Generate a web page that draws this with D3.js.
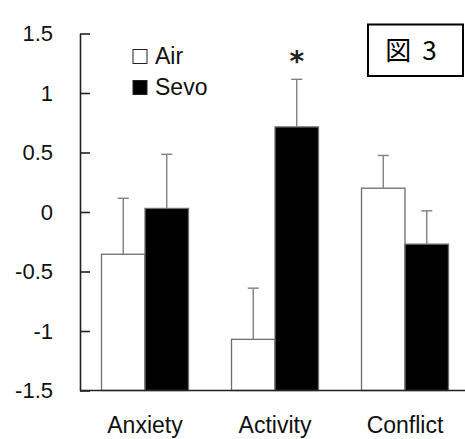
<!DOCTYPE html>
<html>
<head>
<meta charset="utf-8">
<script src="https://cdn.jsdelivr.net/npm/d3@7"></script>
<style>
  html, body { margin: 0; padding: 0; background: #fff; }
  svg { display: block; }
</style>
</head>
<body>
<svg id="chart" width="465" height="439"></svg>
<script>
const categories = ["Anxiety", "Activity", "Conflict"];
const seriesNames = ["Air", "Sevo"];
const airValues = [-0.355, -1.07, 0.20];
const sevoValues = [0.03, 0.715, -0.27];
const airErrors = [0.47, 0.43, 0.275];
const sevoErrors = [0.455, 0.40, 0.28];
const yTicks = [1.5, 1, 0.5, 0, -0.5, -1, -1.5];
const airSignificant = [false, false, false];
const sevoSignificant = [false, true, false];
const titleText = "図 3";

const svg = d3.select("#chart");
const font = "Arial, 'Liberation Sans', sans-serif";

const y = d3.scaleLinear().domain([-1.5, 1.5]).range([390.5, 33.5]);
const x0 = d3.scaleBand().domain(categories).range([80, 470])
  .paddingInner(0.3308).paddingOuter(0.1654);
const x1 = d3.scaleBand().domain(seriesNames).range([0, x0.bandwidth()]);

const rows = [];
categories.forEach((c, i) => {
  rows.push({cat: c, s: "Air", v: airValues[i], e: airErrors[i], sig: airSignificant[i]});
  rows.push({cat: c, s: "Sevo", v: sevoValues[i], e: sevoErrors[i], sig: sevoSignificant[i]});
});

const base = y.domain()[0];

// bars (rising from the bottom of the axis)
svg.append("g").selectAll("rect").data(rows).join("rect")
  .attr("x", d => x0(d.cat) + x1(d.s))
  .attr("width", x1.bandwidth())
  .attr("y", d => y(d.v))
  .attr("height", d => y(base) - y(d.v))
  .attr("fill", d => d.s === "Air" ? "#fff" : "#000")
  .attr("stroke", "#6e6e6e")
  .attr("stroke-width", 1.3);

// error bars (upper only)
const eg = svg.append("g").attr("stroke", "#808080").attr("stroke-width", 1.4);
rows.forEach(d => {
  const cx = x0(d.cat) + x1(d.s) + x1.bandwidth() / 2;
  eg.append("line").attr("x1", cx).attr("x2", cx)
    .attr("y1", y(d.v)).attr("y2", y(d.v + d.e));
  eg.append("line").attr("x1", cx - 5.5).attr("x2", cx + 5.5)
    .attr("y1", y(d.v + d.e)).attr("y2", y(d.v + d.e));
});

// significance star
svg.append("g").selectAll("text").data(rows.filter(d => d.sig)).join("text")
  .attr("x", d => x0(d.cat) + x1(d.s) + x1.bandwidth() / 2)
  .attr("y", d => y(d.v + d.e) - 8)
  .attr("text-anchor", "middle")
  .attr("font-family", "'DejaVu Sans', sans-serif")
  .attr("font-size", 28)
  .attr("font-weight", "bold")
  .attr("fill", "#222")
  .text("*");

// y axis
const yAxis = d3.axisRight(y).tickValues(yTicks).tickSize(10).tickFormat(d3.format("")).tickSizeOuter(0);
const yg = svg.append("g").attr("transform", "translate(80,0)").call(yAxis);
yg.select(".domain").attr("stroke", "#222").attr("stroke-width", 1.6);
yg.selectAll(".tick line").attr("stroke", "#222").attr("stroke-width", 1.6);
yg.selectAll(".tick text")
  .attr("x", -27).attr("text-anchor", "end")
  .attr("font-family", font).attr("font-size", 22).attr("fill", "#111")
  .text(d => d === 0 ? "0" : String(d));

// x axis
const xAxis = d3.axisBottom(x0).tickSize(0).tickSizeOuter(0);
const xg = svg.append("g").attr("transform", `translate(0,${y(base)})`).call(xAxis);
xg.select(".domain").attr("stroke", "#222").attr("stroke-width", 1.6)
  .attr("d", `M80,0H465`);
xg.selectAll(".tick text")
  .attr("y", 42).attr("dy", 0)
  .attr("font-family", font).attr("font-size", 23).attr("fill", "#111");

// legend
const lg = svg.append("g");
seriesNames.forEach((s, i) => {
  const ly = 49.5 + i * 31;
  lg.append("rect").attr("x", 133).attr("y", ly).attr("width", 14).attr("height", 14)
    .attr("fill", s === "Air" ? "#fff" : "#000").attr("stroke", "#222").attr("stroke-width", 1);
  lg.append("text").attr("x", 155).attr("y", ly + 14)
    .attr("font-family", font).attr("font-size", 23).attr("fill", "#111").text(s);
});

// title box
svg.append("rect").attr("x", 368).attr("y", 24.5).attr("width", 95).attr("height", 51.5)
  .attr("fill", "#fff").attr("stroke", "#000").attr("stroke-width", 2);
svg.append("text").attr("x", 411).attr("y", 60)
  .attr("text-anchor", "middle")
  .attr("font-family", "'Noto Sans CJK JP', sans-serif")
  .attr("font-size", 26).attr("word-spacing", 5).attr("fill", "#000").text(titleText);
</script>
</body>
</html>
